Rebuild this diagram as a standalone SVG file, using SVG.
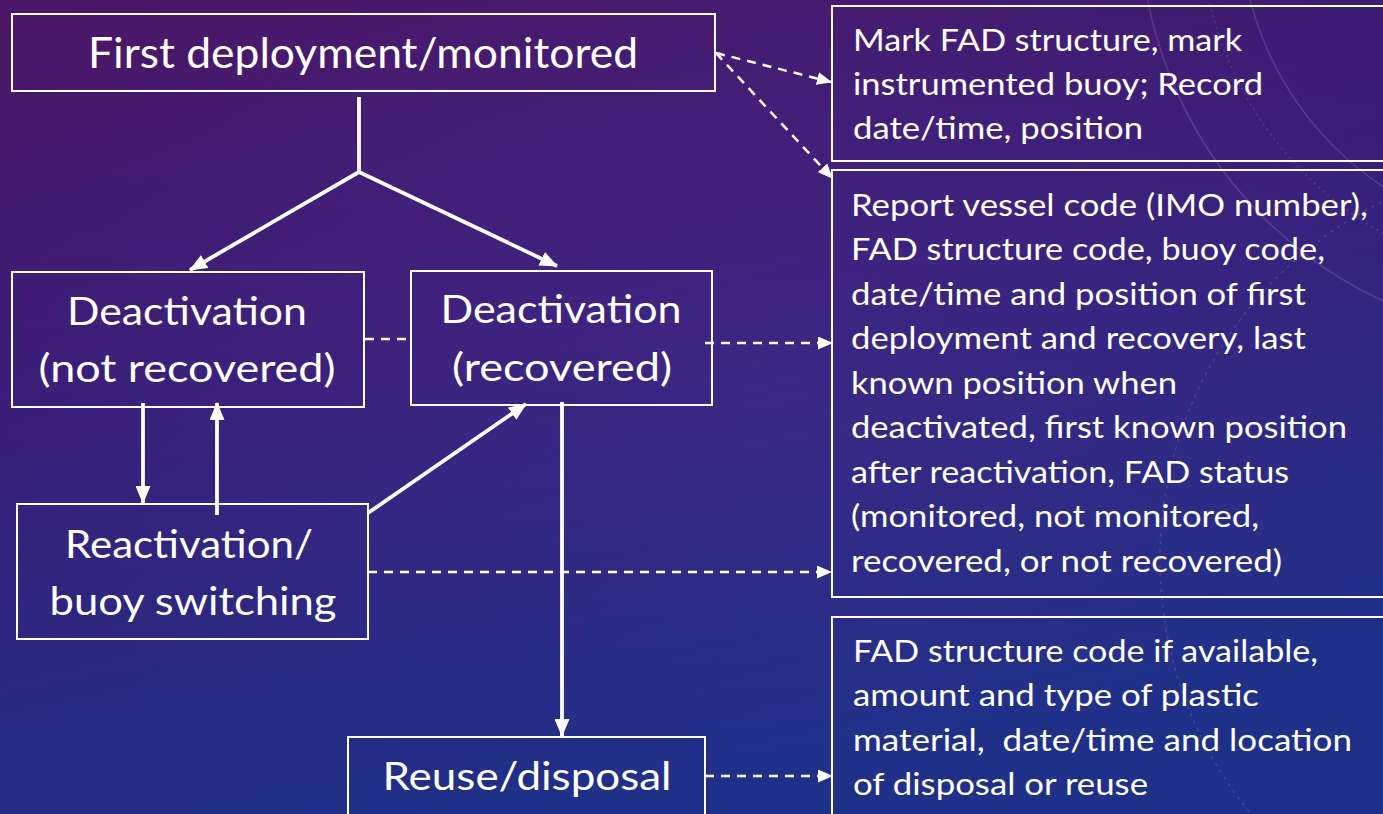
<svg xmlns="http://www.w3.org/2000/svg" width="1383" height="814" viewBox="0 0 1383 814">
<defs>
<linearGradient id="bg" x1="0" y1="0" x2="0.35" y2="1">
<stop offset="0" stop-color="#4c1766"/>
<stop offset="0.45" stop-color="#391e78"/>
<stop offset="1" stop-color="#1e3088"/>
</linearGradient>
<radialGradient id="glow" cx="0.55" cy="0.45" r="0.6">
<stop offset="0" stop-color="#5a3aa0" stop-opacity="0.22"/>
<stop offset="1" stop-color="#5a3aa0" stop-opacity="0"/>
</radialGradient>
<marker id="ah" viewBox="0 0 18 15" refX="17" refY="7.5" markerWidth="18" markerHeight="15" markerUnits="userSpaceOnUse" orient="auto">
<path d="M0,0 L18,7.5 L0,15 z" fill="#fff"/>
</marker>
<marker id="ahd" viewBox="0 0 15 13" refX="14" refY="6.5" markerWidth="15" markerHeight="13" markerUnits="userSpaceOnUse" orient="auto">
<path d="M0,0 L15,6.5 L0,13 z" fill="#fff"/>
</marker>
<style>
.box{fill:none;stroke:#fff;stroke-width:2}
.big{font-family:Lato,"Open Sans","Liberation Sans",sans-serif;fill:#fff;text-anchor:middle}
.t{font-family:Lato,"Open Sans","Liberation Sans",sans-serif;font-size:30px;fill:#fff;white-space:pre}
.solid{stroke:#fff;stroke-width:3.8;fill:none}
.dash{stroke:#fff;stroke-width:2.5;fill:none;stroke-dasharray:9 7}
.deco{fill:none;stroke:#fff;stroke-opacity:0.13;stroke-width:1.5}
</style>
</defs>
<rect width="1383" height="814" fill="url(#bg)"/>
<rect width="1383" height="814" fill="url(#glow)"/>
<g id="decor">
<circle cx="1560" cy="-80" r="420" class="deco"/>
<circle cx="1560" cy="-80" r="360" class="deco" stroke-dasharray="2 4"/>
<circle cx="1560" cy="-80" r="320" class="deco"/>
<circle cx="1560" cy="560" r="400" class="deco" stroke-dasharray="3 5"/>
</g>
<g id="connectors">
<line class="solid" x1="359" y1="97" x2="359" y2="172"/>
<line class="solid" x1="359" y1="172" x2="190" y2="270" marker-end="url(#ah)"/>
<line class="solid" x1="359" y1="172" x2="557" y2="266" marker-end="url(#ah)"/>
<line class="solid" x1="143" y1="403" x2="143" y2="503" marker-end="url(#ah)"/>
<line class="solid" x1="217" y1="515" x2="217" y2="403" marker-end="url(#ah)"/>
<line class="solid" x1="368" y1="513" x2="526" y2="404" marker-end="url(#ah)"/>
<line class="solid" x1="562" y1="402" x2="562" y2="736" marker-end="url(#ah)"/>
<line class="dash" x1="716" y1="53" x2="831" y2="82" marker-end="url(#ahd)"/>
<line class="dash" x1="716" y1="53" x2="832" y2="178" marker-end="url(#ahd)"/>
<line class="dash" x1="365" y1="339" x2="410" y2="339"/>
<line class="dash" x1="705" y1="343" x2="832" y2="343" marker-end="url(#ahd)"/>
<line class="dash" x1="368" y1="572" x2="831" y2="572" marker-end="url(#ahd)"/>
<line class="dash" x1="705" y1="776" x2="832" y2="776" marker-end="url(#ahd)"/>
</g>
<g id="first">
<rect class="box" x="12" y="14" width="703" height="77"/>
<text class="big" x="363" y="68" font-size="43" textLength="550" lengthAdjust="spacingAndGlyphs">First deployment/monitored</text>
</g>
<g id="deact-not">
<rect class="box" x="12" y="272" width="352" height="135"/>
<text class="big" x="187" y="325" font-size="39" textLength="240" lengthAdjust="spacingAndGlyphs">Deactivation</text>
<text class="big" x="187" y="382" font-size="39" textLength="297" lengthAdjust="spacingAndGlyphs">(not recovered)</text>
</g>
<g id="deact-rec">
<rect class="box" x="411" y="271" width="301" height="134"/>
<text class="big" x="561" y="323" font-size="39" textLength="241" lengthAdjust="spacingAndGlyphs">Deactivation</text>
<text class="big" x="562" y="381" font-size="39" textLength="220" lengthAdjust="spacingAndGlyphs">(recovered)</text>
</g>
<g id="reactivation">
<rect class="box" x="17" y="504" width="351" height="135"/>
<text class="big" x="189" y="558" font-size="39" textLength="248" lengthAdjust="spacingAndGlyphs">Reactivation/</text>
<text class="big" x="193" y="615" font-size="39" textLength="287" lengthAdjust="spacingAndGlyphs">buoy switching</text>
</g>
<g id="reuse">
<rect class="box" x="348" y="737" width="357" height="90"/>
<text class="big" x="527" y="790" font-size="39" textLength="289" lengthAdjust="spacingAndGlyphs">Reuse/disposal</text>
</g>
<g id="info-first">
<rect class="box" x="832" y="6" width="560" height="155"/>
<text class="t" x="853" y="51" textLength="389" lengthAdjust="spacingAndGlyphs">Mark FAD structure, mark</text>
<text class="t" x="853" y="95" textLength="410" lengthAdjust="spacingAndGlyphs">instrumented buoy; Record</text>
<text class="t" x="853" y="139" textLength="290" lengthAdjust="spacingAndGlyphs">date/time, position</text>
</g>
<g id="info-report">
<rect class="box" x="832" y="170" width="560" height="427"/>
<text class="t" x="851" y="216" textLength="517" lengthAdjust="spacingAndGlyphs">Report vessel code (IMO number),</text>
<text class="t" x="851" y="260" textLength="474" lengthAdjust="spacingAndGlyphs">FAD structure code, buoy code,</text>
<text class="t" x="851" y="305" textLength="455" lengthAdjust="spacingAndGlyphs">date/time and position of first</text>
<text class="t" x="851" y="349" textLength="455" lengthAdjust="spacingAndGlyphs">deployment and recovery, last</text>
<text class="t" x="851" y="394" textLength="326" lengthAdjust="spacingAndGlyphs">known position when</text>
<text class="t" x="851" y="438" textLength="496" lengthAdjust="spacingAndGlyphs">deactivated, first known position</text>
<text class="t" x="851" y="483" textLength="438" lengthAdjust="spacingAndGlyphs">after reactivation, FAD status</text>
<text class="t" x="851" y="527" textLength="408" lengthAdjust="spacingAndGlyphs">(monitored, not monitored,</text>
<text class="t" x="851" y="572" textLength="431" lengthAdjust="spacingAndGlyphs">recovered, or not recovered)</text>
</g>
<g id="info-disposal">
<rect class="box" x="832" y="617" width="560" height="220"/>
<text class="t" x="853" y="662" textLength="465" lengthAdjust="spacingAndGlyphs">FAD structure code if available,</text>
<text class="t" x="853" y="706" textLength="406" lengthAdjust="spacingAndGlyphs">amount and type of plastic</text>
<text class="t" x="853" y="751" textLength="499" lengthAdjust="spacingAndGlyphs">material,  date/time and location</text>
<text class="t" x="853" y="795" textLength="295" lengthAdjust="spacingAndGlyphs">of disposal or reuse</text>
</g>
</svg>
